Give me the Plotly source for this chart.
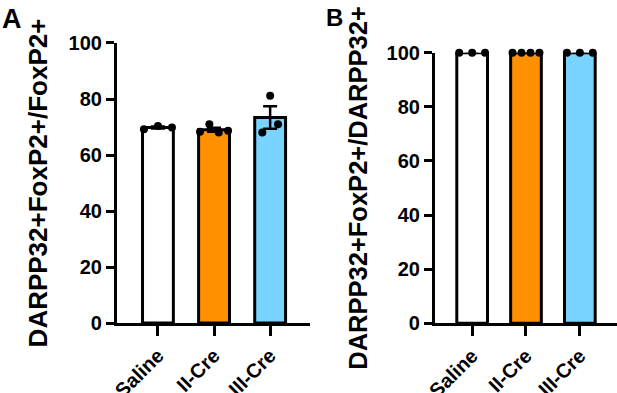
import plotly.graph_objects as go
import numpy as np

groups = ["Saline", "II-Cre", "III-Cre"]
bar_colors = ["#FFFFFF", "#FF9100", "#79D3FF"]

# Panel A: DARPP32+FoxP2+/FoxP2+ (%)
a_points = [
    [69.2, 70.4, 69.8],
    [68.3, 71.0, 68.0, 68.7],
    [68.0, 81.2, 71.0],
]
a_means = [69.8, 69.0, 73.4]
a_sem = [0.35, 0.7, 4.0]

# Panel B: DARPP32+FoxP2+/DARPP32+ (%)
b_points = [
    [100.0, 100.0, 100.0],
    [100.0, 100.0, 100.0, 100.0],
    [100.0, 100.0, 100.0],
]
b_means = [100.0, 100.0, 100.0]
b_sem = [0.0, 0.0, 0.0]

yticks = [0, 20, 40, 60, 80, 100]

FONT = "Liberation Sans, Arial, sans-serif"
spreads_a = [0.25, 0.25, 0.14]
spreads_b = [0.24, 0.25, 0.24]
xpos = list(range(len(groups)))

fig = go.Figure()


def add_panel(fig, means, sem, points, spreads, xa, ya, bw):
    fig.add_trace(go.Bar(
        x=xpos, y=means, width=bw, xaxis=xa, yaxis=ya,
        marker=dict(color=bar_colors, line=dict(color="black", width=3)),
        error_y=dict(type="data", array=sem, visible=True, color="black",
                     thickness=2.5, width=7),
        showlegend=False, cliponaxis=False,
    ))
    for i, pts in enumerate(points):
        n = len(pts)
        offs = np.linspace(-spreads[i], spreads[i], n)
        fig.add_trace(go.Scatter(
            x=[xpos[i] + o for o in offs], y=pts, mode="markers",
            xaxis=xa, yaxis=ya,
            marker=dict(color="black", size=8),
            showlegend=False, cliponaxis=False,
        ))


add_panel(fig, a_means, a_sem, a_points, spreads_a, "x", "y", 0.55)
add_panel(fig, b_means, b_sem, b_points, spreads_b, "x2", "y2", 0.57)

axis_common = dict(
    showline=True, linecolor="black", linewidth=3,
    ticks="outside", ticklen=8, tickwidth=2.5, tickcolor="black",
    showgrid=False, zeroline=False, automargin=False,
    tickfont=dict(family=FONT, size=20, color="black", weight="bold"),
)
ytext = ["<b>%d</b>" % v for v in yticks]
xtext = ["<b>%s</b>" % g for g in groups]

fig.update_layout(
    width=617, height=393,
    margin=dict(l=0, r=0, t=0, b=0),
    paper_bgcolor="white", plot_bgcolor="white",
    xaxis=dict(domain=[0.1896, 0.5024], range=[-0.73, 2.71], anchor="y",
               tickmode="array", tickvals=xpos, ticktext=xtext,
               tickangle=-45, **{**axis_common, "ticklen": 10}),
    yaxis=dict(domain=[0.178, 0.8906], range=[0, 100], anchor="x",
               tickmode="array", tickvals=yticks, ticktext=ytext,
               title=dict(text="DARPP32+FoxP2+/FoxP2+", standoff=14,
                          font=dict(family=FONT, size=26, color="black", weight="bold")),
               **axis_common),
    xaxis2=dict(domain=[0.705, 1.0], range=[-0.69, 2.69], anchor="y2",
                tickmode="array", tickvals=xpos, ticktext=xtext,
                tickangle=-45, **{**axis_common, "ticklen": 10}),
    yaxis2=dict(domain=[0.1776, 0.8659], range=[0, 100], anchor="x2",
                tickmode="array", tickvals=yticks, ticktext=ytext,
                title=dict(text="DARPP32+FoxP2+/DARPP32+", standoff=12,
                           font=dict(family=FONT, size=25.5, color="black", weight="bold")),
                **axis_common),
    annotations=[
        dict(text="A", x=0, y=0.995, xref="paper", yref="paper", xanchor="left",
             yanchor="top", showarrow=False,
             font=dict(family=FONT, size=27, color="black", weight="bold")),
        dict(text="B", x=334 / 617, y=0.995, xref="paper", yref="paper", xanchor="center",
             yanchor="top", showarrow=False,
             font=dict(family=FONT, size=24, color="black", weight="bold")),
    ],
)

fig.write_html("out.html", config={"displayModeBar": False},
               post_script="document.body.style.margin='0px';")
